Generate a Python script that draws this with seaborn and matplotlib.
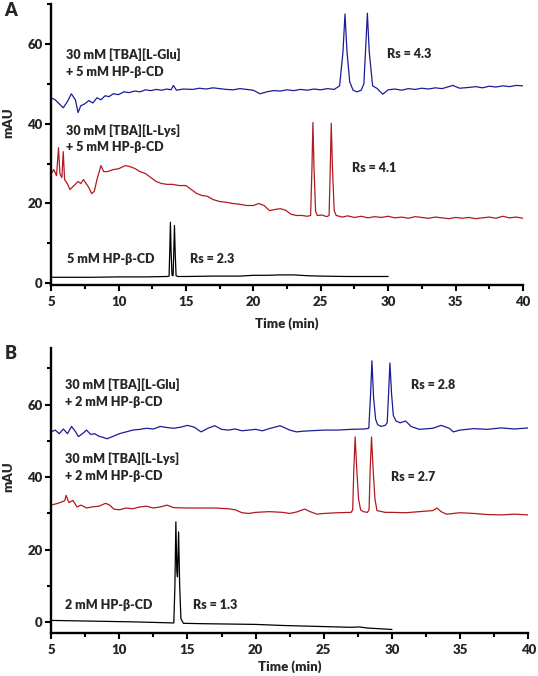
# Chromatograms of HP-beta-CD separations, panels A (5 mM) and B (2 mM)

import seaborn as sns
import numpy as np
import matplotlib.pyplot as plt
import pandas as pd
from matplotlib.ticker import MultipleLocator

blue = '#1c1c96'
red = '#b01a1f'

# ---- Panel A traces (time in min, signal in mAU) ----
a_glu_t = [5.0, 5.3, 5.6, 5.9, 6.2, 6.5, 6.8, 7.0, 7.2, 7.5, 7.8, 8.1, 8.4, 8.7, 9.0, 9.3, 9.6,
           10.0, 10.4, 10.8, 11.2, 11.6, 12.0, 12.4, 12.8, 13.2, 13.6, 13.9, 14.07, 14.3, 14.8,
           15.5, 16.0, 16.5, 17.0, 17.5, 18.0, 18.5, 19.0, 19.5, 20.0, 20.5, 21.0, 21.5, 22.0,
           22.5, 23.0, 23.5, 24.0, 24.5, 25.0, 25.5, 26.0, 26.4, 26.65, 26.8, 26.95, 27.15, 27.4,
           27.7, 28.0, 28.2, 28.35, 28.46, 28.6, 28.85, 29.2, 29.6, 30.0, 30.5, 31.0, 31.5, 32.0,
           32.5, 33.0, 33.5, 34.0, 34.8, 35.3, 36.0, 36.5, 37.0, 37.5, 38.0, 38.5, 39.0, 39.5, 40.0]
a_glu_y = [46.5, 46.0, 45.0, 44.0, 45.5, 47.5, 46.0, 42.8, 44.5, 45.0, 45.8, 45.2, 46.5, 46.0, 47.0, 46.8, 47.5,
           47.3, 48.0, 47.8, 48.2, 48.0, 48.5, 48.3, 48.6, 48.4, 48.7, 48.5, 49.6, 48.4, 48.7,
           48.6, 48.9, 48.7, 49.0, 48.8, 48.6, 48.5, 48.8, 48.6, 48.4, 47.5, 48.0, 48.3, 48.2,
           48.5, 48.3, 48.6, 48.4, 48.7, 48.5, 48.8, 48.6, 49.5, 58.0, 67.5, 58.0, 50.5, 48.4,
           48.0, 48.4, 50.0, 60.0, 67.7, 58.0, 49.5, 48.8, 47.4, 48.5, 48.7, 48.4, 48.8, 48.6,
           48.9, 48.7, 49.0, 48.8, 49.6, 48.9, 49.1, 49.3, 49.0, 49.4, 49.2, 49.5, 49.3, 49.6, 49.5]

a_lys_t = [5.0, 5.2, 5.4, 5.55, 5.65, 5.8, 5.9, 6.0, 6.2, 6.4, 6.7, 7.0, 7.2, 7.4, 7.6, 7.8, 8.0,
           8.2, 8.4, 8.7, 8.9, 9.2, 9.6, 10.0, 10.5, 10.8, 11.2, 11.6, 12.0, 12.4, 12.8, 13.2,
           13.6, 14.0, 14.5, 15.0, 15.4, 15.8, 16.2, 16.6, 17.0, 17.5, 18.0, 18.5, 19.0, 19.5,
           20.0, 20.4, 20.8, 21.2, 21.6, 22.0, 22.4, 22.8, 23.2, 23.6, 24.0, 24.25, 24.35, 24.42,
           24.5, 24.62, 24.75, 25.1, 25.45, 25.62, 25.71, 25.78, 25.87, 26.0, 26.15, 26.6, 27.0,
           27.5, 28.0, 28.5, 29.0, 29.5, 30.0, 30.5, 31.0, 31.5, 32.0, 32.5, 33.0, 33.5, 34.0,
           34.5, 35.0, 35.5, 36.0, 36.5, 37.0, 37.5, 38.0, 38.5, 39.0, 39.5, 40.0]
a_lys_y = [27.5, 28.5, 27.0, 34.0, 27.5, 26.5, 33.0, 26.0, 25.0, 23.5, 24.5, 25.5, 25.0, 26.0, 25.0, 24.0, 22.5,
           23.0, 26.0, 29.5, 28.0, 28.0, 28.5, 28.7, 29.5, 29.3, 28.8, 28.0, 27.5, 26.5, 25.5, 25.0,
           24.8, 24.8, 24.5, 24.5, 23.5, 22.5, 22.0, 21.8, 21.0, 20.5, 20.3, 20.0, 19.8, 19.5,
           19.5, 20.0, 19.5, 18.2, 18.5, 18.7, 18.3, 17.3, 17.0, 17.0, 16.8, 17.0, 29.0, 40.3,
           29.0, 18.0, 17.0, 17.1, 16.7, 17.0, 29.0, 40.1, 29.0, 18.2, 17.0, 16.6, 16.9,
           16.5, 16.8, 16.4, 16.7, 16.5, 16.8, 16.4, 16.6, 16.3, 16.7, 16.5, 16.3, 16.6, 16.4,
           16.2, 16.5, 16.3, 16.5, 16.2, 16.4, 16.6, 16.3, 16.8, 16.4, 16.6, 16.3]

a_cd_t = [5.0, 8.0, 10.0, 12.0, 13.6, 13.75, 13.8, 13.85, 13.9, 13.97, 14.05, 14.1, 14.15, 14.2,
          14.27, 14.4, 15.0, 17.0, 19.0, 20.0, 21.0, 22.0, 23.0, 24.0, 25.0, 27.0, 30.0]
a_cd_y = [1.5, 1.5, 1.6, 1.6, 1.7, 1.8, 8.0, 15.3, 8.0, 2.0, 1.9, 8.0, 14.5, 8.0,
          1.9, 1.7, 1.7, 1.8, 1.8, 2.0, 2.0, 2.1, 2.1, 1.9, 1.8, 1.7, 1.7]

# ---- Panel B traces ----
b_glu_t = [5.0, 5.3, 5.6, 5.9, 6.2, 6.5, 6.8, 7.0, 7.3, 7.6, 7.9, 8.2, 8.5, 8.8, 9.1, 9.5,
           10.0, 10.5, 11.0, 11.5, 12.0, 12.5, 13.0, 13.5, 14.0, 14.5, 15.0, 15.5, 16.0, 16.5,
           17.0, 17.5, 18.0, 18.5, 19.0, 19.5, 20.0, 20.5, 21.0, 21.8, 22.5, 23.0, 23.5, 24.0,
           25.0, 26.0, 27.0, 28.0, 28.3, 28.42, 28.53, 28.65, 28.8, 28.95, 29.2, 29.5, 29.65,
           29.75, 29.85, 29.97, 30.1, 30.3, 30.6, 31.0, 31.4, 32.0, 33.0, 33.6, 34.2, 34.5, 35.0,
           36.0, 37.0, 38.0, 39.0, 40.0]
b_glu_y = [52.5, 53.0, 52.0, 53.3, 52.0, 54.0, 52.5, 51.2, 52.0, 53.0, 51.8, 52.0, 51.3, 51.0, 50.6, 51.2,
           52.0, 52.5, 53.0, 53.2, 53.5, 53.3, 54.0, 53.7, 53.5, 53.8, 54.3, 53.8, 52.5, 53.5,
           54.2, 53.2, 53.0, 53.3, 52.8, 53.0, 53.2, 52.8, 53.4, 54.2, 53.0, 52.5, 52.7, 52.8,
           53.0, 53.0, 53.2, 53.3, 53.5, 62.0, 72.1, 62.0, 56.0, 54.5, 54.0, 54.3, 55.0,
           63.0, 71.5, 63.0, 57.0, 55.5, 55.0, 55.5, 54.0, 53.2, 53.5, 54.3, 53.5, 52.5, 53.0,
           53.4, 53.2, 53.6, 53.3, 53.6]

b_lys_t = [5.0, 5.5, 6.0, 6.1, 6.3, 6.6, 6.9, 7.2, 7.6, 8.0, 8.5, 9.0, 9.3, 9.6, 10.0, 10.5,
           11.0, 11.5, 12.0, 12.5, 13.0, 13.5, 14.0, 15.0, 16.0, 17.0, 18.0, 18.5, 19.0, 19.5,
           20.0, 21.0, 22.0, 22.5, 23.0, 23.6, 24.0, 24.5, 25.0, 26.0, 27.0, 27.12, 27.2, 27.3,
           27.42, 27.55, 27.7, 27.9, 28.2, 28.32, 28.4, 28.5, 28.62, 28.75, 28.9, 29.5, 30.0,
           31.0, 32.0, 33.0, 33.3, 33.6, 34.0, 35.0, 36.0, 37.0, 38.0, 39.0, 40.0]
b_lys_y = [32.3, 32.8, 33.5, 35.0, 33.0, 33.6, 31.8, 32.3, 31.5, 31.8, 32.0, 32.8, 32.3, 31.2, 31.0, 31.5,
           31.3, 31.8, 32.0, 31.5, 31.8, 32.3, 31.6, 31.5, 31.5, 31.5, 31.3, 31.0, 30.2, 30.0,
           30.3, 30.5, 30.3, 30.0, 30.4, 31.2, 30.5, 29.8, 30.0, 30.2, 30.3, 31.0, 42.0, 51.1,
           42.0, 34.0, 31.0, 30.5, 30.3, 31.0, 42.0, 51.1, 42.0, 34.0, 30.8, 30.3, 30.3,
           30.2, 30.5, 30.8, 31.5, 30.5, 29.8, 30.2, 30.0, 29.7, 29.6, 29.8, 29.6]

b_cd_t = [5.0, 8.0, 11.0, 14.0, 14.08, 14.15, 14.22, 14.27, 14.35, 14.43, 14.52, 14.7, 16.0,
          18.0, 20.0, 22.0, 25.0, 27.0, 27.6, 28.2, 30.0]
b_cd_y = [0.5, 0.3, 0.1, -0.2, 10.0, 27.7, 14.0, 12.5, 24.9, 10.0, 1.0, -0.3, -0.4,
          -0.5, -0.6, -0.9, -1.2, -1.4, -1.3, -1.6, -2.0]

sns.set_theme(style="ticks")
plt.rcParams['font.family'] = ['Lato', 'DejaVu Sans']
plt.rcParams['font.weight'] = 'bold'

fig = plt.figure(figsize=(5.38, 6.76), dpi=100)
ax_a = fig.add_axes([0.095, 0.578, 0.877, 0.416])
ax_b = fig.add_axes([0.095, 0.064, 0.887, 0.421])


def draw_trace(ax, t, y, color):
    df = pd.DataFrame({'t': t, 'y': y})
    sns.lineplot(data=df, x='t', y='y', ax=ax, color=color, linewidth=0.9,
                 sort=False, estimator=None)


def style_axes(ax, ylim, ylab_y, xlab_y):
    ax.set_xlim(5, 40)
    ax.set_ylim(*ylim)
    ax.xaxis.set_major_locator(MultipleLocator(5))
    ax.xaxis.set_minor_locator(MultipleLocator(2.5))
    ax.yaxis.set_major_locator(MultipleLocator(20))
    ax.yaxis.set_minor_locator(MultipleLocator(10))
    sns.despine(ax=ax)
    for s in ['left', 'bottom']:
        ax.spines[s].set_linewidth(1.7)
        ax.spines[s].set_color('black')
    ax.tick_params(which='major', length=4, width=1.5, labelsize=9.5, color='black', pad=2)
    ax.tick_params(axis='x', which='major', pad=4)
    ax.tick_params(which='minor', length=3, width=1.5, color='black')
    for lab in ax.get_xticklabels() + ax.get_yticklabels():
        lab.set_fontweight('heavy')
    ax.set_xlabel('Time (min)', fontsize=9.5, fontweight='heavy')
    ax.set_ylabel('mAU', fontsize=9.5, fontweight='heavy')
    ax.yaxis.set_label_coords(-0.078, ylab_y)
    ax.xaxis.set_label_coords(0.5, xlab_y)


# Panel A
draw_trace(ax_a, a_glu_t, a_glu_y, blue)
draw_trace(ax_a, a_lys_t, a_lys_y, red)
draw_trace(ax_a, a_cd_t, a_cd_y, 'black')
style_axes(ax_a, (-0.5, 70), 0.577, -0.115)
tk = dict(fontsize=9, fontweight='heavy', va='center', ha='left', linespacing=1.45)
ax_a.text(6.1, 55.2, '30 mM [TBA][L-Glu]\n+ 5 mM HP-β-CD', **tk)
ax_a.text(6.1, 36.2, '30 mM [TBA][L-Lys]\n+ 5 mM HP-β-CD', **tk)
ax_a.text(6.2, 6.0, '5 mM HP-β-CD', **tk)
ax_a.text(29.9, 57.5, 'Rs = 4.3', **tk)
ax_a.text(27.3, 28.8, 'Rs = 4.1', **tk)
ax_a.text(15.3, 6.2, 'Rs = 2.3', **tk)

# Panel B
draw_trace(ax_b, b_glu_t, b_glu_y, blue)
draw_trace(ax_b, b_lys_t, b_lys_y, red)
draw_trace(ax_b, b_cd_t, b_cd_y, 'black')
style_axes(ax_b, (-2.9, 75.6), 0.547, -0.095)
ax_b.text(6.0, 63.1, '30 mM [TBA][L-Glu]\n+ 2 mM HP-β-CD', **tk)
ax_b.text(6.0, 42.8, '30 mM [TBA][L-Lys]\n+ 2 mM HP-β-CD', **tk)
ax_b.text(6.0, 4.7, '2 mM HP-β-CD', **tk)
ax_b.text(31.4, 65.4, 'Rs = 2.8', **tk)
ax_b.text(29.9, 40.0, 'Rs = 2.7', **tk)
ax_b.text(15.4, 4.7, 'Rs = 1.3', **tk)

fig.text(0.008, 0.985, 'A', fontsize=13, fontweight='heavy', va='center')
fig.text(0.008, 0.477, 'B', fontsize=13, fontweight='heavy', va='center')

plt.savefig("out.png", dpi=100)
